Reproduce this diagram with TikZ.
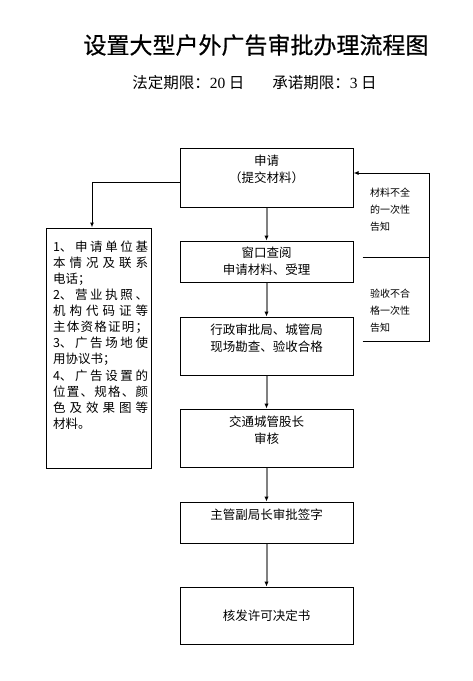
\documentclass[tikz,border=0pt]{standalone}
\usepackage{fontspec}
\setmainfont{Noto Sans CJK SC}
\newfontfamily\numfont{Liberation Serif}
\newfontfamily\headfont[FakeBold=0.6]{Noto Sans CJK SC}
\usetikzlibrary{arrows.meta,positioning}
\definecolor{flowgray}{RGB}{128,128,128}
\newcommand{\docline}[1]{\makebox[95pt][s]{\spaceskip=0pt plus 1fil\relax #1}}

\begin{document}
\begin{tikzpicture}[x=1pt,y=-1pt,font=\fontsize{12.5}{17}\selectfont,node distance=33pt,>={Latex[length=5pt,width=4pt]}]
\tikzset{box/.style={draw,line width=1pt,minimum width=173pt,inner sep=0pt,align=center},
flow/.style={flowgray,line width=2pt,-{Latex[length=5pt,width=4.5pt,color=black]}},
link/.style={line width=1pt,->},
note/.style={font=\fontsize{10}{17}\selectfont,inner sep=0pt,anchor=north west,align=left},
doctext/.style={font=\fontsize{12.5}{16.1}\selectfont,inner sep=0pt,align=left}}
\useasboundingbox (0,0) rectangle (473,681);
% heading
\node[font=\headfont\fontsize{23}{28}\selectfont] (title) at (256,45) {设置大型户外广告审批办理流程图};
\node[font=\fontsize{15.5}{20}\selectfont] (limit) at (254.5,83) {法定期限：{\numfont 20} 日\hspace{1.8em}承诺期限：{\numfont 3} 日};
% main chain
\node[box,minimum height=59pt] (apply) at (266.5,177.5) {申请\\（提交材料）\\ \mbox{}};
\node[box,minimum height=41pt,below=of apply] (window) {窗口查阅\\申请材料、受理};
\node[box,minimum height=58pt,below=34pt of window] (survey) {行政审批局、城管局\\现场勘查、验收合格\\ \mbox{}};
\node[box,minimum height=58pt,below=of survey] (review) {交通城管股长\\审核\\ \mbox{}};
\node[box,minimum height=41pt,below=34pt of review] (sign) {主管副局长审批签字\\ \mbox{}};
\node[box,minimum height=57pt,below=43pt of sign] (issue) {核发许可决定书};
\draw[flow] (apply)--(window);
\draw[flow] (window)--(survey);
\draw[flow] (survey)--(review);
\draw[flow] (review)--(sign);
\draw[flow] (sign)--(issue);
% returns to the applicant
\coordinate (n2) at ([xshift=9pt,yshift=4.5pt]window.east);
\coordinate (n3) at ([xshift=9pt,yshift=5pt]survey.east);
\coordinate (rt) at ([xshift=76pt,yshift=4.5pt]apply.east);
\draw[link] (n3) -| (rt) -- (rt -| apply.east);
\draw[line width=1pt] (n2) -- (n2 -| rt);
\node[note] (lack) at (370,188) {材料不全\\的一次性\\告知};
\node[note] (fail) at (370,289) {验收不合\\格一次性\\告知};
% materials list
\node[draw,line width=1pt,minimum width=105pt,minimum height=240pt,inner sep=0pt] (docs) at (98.5,348) {};
\node[doctext,below=13pt of docs.north,xshift=2pt] (docstext) {\docline{1、 申 请 单 位 基}\\
\docline{本 情 况 及 联 系}\\
电话；\\
\docline{2、 营 业 执 照 、}\\
\docline{机 构 代 码 证 等}\\
\docline{主 体 资 格 证 明 ；}\\
\docline{3、 广 告 场 地 使}\\
用协议书；\\
\docline{4、 广 告 设 置 的}\\
\docline{位 置 、 规 格 、 颜}\\
\docline{色 及 效 果 图 等}\\
材料。};
\coordinate (lc) at ([yshift=-4.5pt]apply.west);
\draw[link] (lc) -| ([xshift=-6.5pt]docs.north);
\end{tikzpicture}
\end{document}
